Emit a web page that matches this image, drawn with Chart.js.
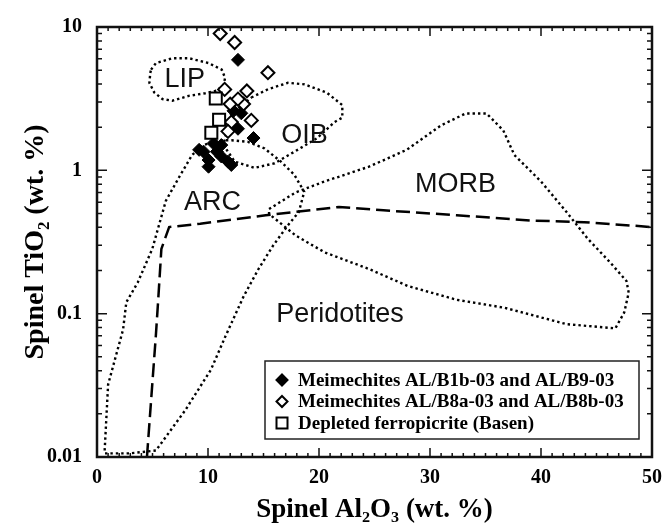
<!DOCTYPE html>
<html>
<head>
<meta charset="utf-8">
<script src="https://cdn.jsdelivr.net/npm/chart.js@4.4.0/dist/chart.umd.min.js"></script>
<style>
  html, body { margin: 0; padding: 0; background: #fff; }
</style>
</head>
<body>
<canvas id="spinelChart" width="671" height="529"></canvas>
<script>
// spinel data points (Al2O3 wt.%, TiO2 wt.%)
const filledX = [12.7, 14.1, 12.7, 9.6, 10.05, 10.05, 11.8, 10.8, 11.2, 10.5, 12.1, 9.2, 11.2, 12.3, 13.0];
const filledY = [5.9, 1.68, 1.95, 1.35, 1.18, 1.06, 1.15, 1.35, 1.25, 1.54, 1.09, 1.39, 1.5, 2.6, 2.5];

const openX = [11.1, 12.4, 15.4, 11.5, 13.5, 12.0, 13.2, 12.7, 13.9, 12.1, 11.8];
const openY = [9.0, 7.8, 4.8, 3.67, 3.58, 2.9, 2.9, 3.14, 2.23, 2.17, 1.87];

const squareX = [10.7, 11.0, 10.3];
const squareY = [3.17, 2.25, 1.83];

// fields (dotted outlines)
const lipX = [4.87, 5.31, 6.79, 8.27, 10.05, 11.24, 11.54, 11.39, 10.65, 9.76, 8.27, 6.79, 5.9, 5.16, 4.72, 4.8, 4.87];
const lipY = [5.04, 5.6, 6.06, 6.06, 5.6, 5.04, 4.42, 3.87, 3.58, 3.45, 3.31, 3.06, 3.14, 3.49, 4.08, 4.78, 5.04];

const oibX = [13.9, 15.4, 17.2, 18.7, 20.7, 22.1, 22.1, 21.4, 19.8, 17.8, 16.0, 14.2, 12.4, 11.4, 12.0, 13.9];
const oibY = [3.22, 3.68, 4.08, 3.98, 3.48, 2.85, 2.33, 2.17, 1.67, 1.35, 1.12, 1.04, 1.15, 1.5, 2.41, 3.22];

const arcX = [0.69, 1.0, 2.35, 2.64, 3.67, 4.98, 6.2, 7.38, 8.57, 9.6, 10.94, 12.13, 13.61, 15.1, 16.57, 17.77, 18.67, 18.18, 17.18, 15.86, 14.55, 13.23, 11.57, 10.26, 7.95, 5.31, 2.94, 0.62];
const arcY = [0.0111, 0.032, 0.0775, 0.12, 0.165, 0.283, 0.612, 0.891, 1.28, 1.5, 1.62, 1.62, 1.58, 1.42, 1.15, 0.933, 0.708, 0.512, 0.412, 0.298, 0.205, 0.133, 0.0695, 0.0406, 0.0212, 0.0111, 0.0106, 0.0106];

const morbX = [15.5, 17.9, 20.5, 24.5, 27.9, 31.0, 33.2, 35.1, 36.6, 37.6, 40.0, 42.3, 44.2, 46.2, 47.7, 47.9, 47.5, 46.7, 42.3, 36.7, 32.4, 28.0, 24.5, 20.5, 17.9, 15.5, 15.5];
const morbY = [0.537, 0.702, 0.836, 1.06, 1.39, 2.06, 2.49, 2.49, 1.9, 1.28, 0.836, 0.512, 0.334, 0.229, 0.169, 0.14, 0.102, 0.079, 0.0845, 0.11, 0.125, 0.156, 0.205, 0.268, 0.351, 0.496, 0.537];

// peridotite limit (dashed)
const periX = [4.5, 5.3, 5.5, 5.8, 6.5, 9.3, 15.2, 21.8, 25.8, 32.4, 39.0, 43.9, 50];
const periY = [0.01, 0.07, 0.12, 0.283, 0.402, 0.424, 0.486, 0.555, 0.526, 0.486, 0.447, 0.435, 0.402];

const fieldNames = ['LIP', 'OIB', 'ARC', 'MORB', 'Peridotites'];
const fieldLabelX = [7.9, 18.7, 10.4, 32.3, 21.9];
const fieldLabelY = [4.3, 1.76, 0.6, 0.8, 0.099];

const legendLabels = [
  'Meimechites AL/B1b-03 and AL/B9-03',
  'Meimechites AL/B8a-03 and AL/B8b-03',
  'Depleted ferropicrite (Basen)'
];

const xTicks = [0, 10, 20, 30, 40, 50];
const yTicks = [0.01, 0.1, 1, 10];
const yTickLabels = ['0.01', '0.1', '1', '10'];

const pts = (xs, ys) => xs.map((x, i) => ({ x: x, y: ys[i] }));

function fieldSet(xs, ys, dash, width) {
  return {
    data: pts(xs, ys),
    showLine: true,
    borderColor: '#000',
    borderWidth: width,
    borderDash: dash,
    borderCapStyle: 'butt',
    pointRadius: 0,
    fill: false,
    tension: 0
  };
}

const frameAndLabels = {
  id: 'frameAndLabels',
  afterDatasetsDraw(chart) {
    const ctx = chart.ctx;
    const xs = chart.scales.x, ys = chart.scales.y;
    const a = chart.chartArea;

    // field names
    ctx.save();
    ctx.fillStyle = '#111';
    ctx.font = '27px "Liberation Sans", Arial, sans-serif';
    ctx.textAlign = 'center';
    ctx.textBaseline = 'middle';
    fieldNames.forEach((t, i) => {
      ctx.fillText(t, xs.getPixelForValue(fieldLabelX[i]), ys.getPixelForValue(fieldLabelY[i]));
    });
    ctx.restore();

    // inward ticks
    ctx.save();
    ctx.strokeStyle = '#111';
    ctx.lineWidth = 1.5;
    ctx.beginPath();
    for (let v = 0; v <= 50; v++) {
      const px = xs.getPixelForValue(v);
      const len = v % 10 === 0 ? 9 : 4;
      ctx.moveTo(px, a.bottom); ctx.lineTo(px, a.bottom - len);
      ctx.moveTo(px, a.top); ctx.lineTo(px, a.top + len);
    }
    for (let e = -2; e <= 0; e++) {
      for (let k = 1; k <= 10; k++) {
        const py = ys.getPixelForValue(k * Math.pow(10, e));
        const len = (k === 1 || k === 10) ? 10 : 5;
        ctx.moveTo(a.left, py); ctx.lineTo(a.left + len, py);
        ctx.moveTo(a.right, py); ctx.lineTo(a.right - len, py);
      }
    }
    ctx.stroke();
    ctx.lineWidth = 2.5;
    ctx.strokeRect(a.left, a.top, a.right - a.left, a.bottom - a.top);
    ctx.restore();

    // legend box
    ctx.save();
    const bx = 265, by = 361, bw = 374, bh = 78;
    ctx.fillStyle = '#fff';
    ctx.fillRect(bx, by, bw, bh);
    ctx.strokeStyle = '#222';
    ctx.lineWidth = 1.5;
    ctx.strokeRect(bx, by, bw, bh);
    ctx.font = 'bold 19px "Liberation Serif", "Times New Roman", serif';
    ctx.textBaseline = 'middle';
    ctx.textAlign = 'left';
    legendLabels.forEach((t, i) => {
      const cy = by + 19 + i * 21.5;
      const cx = bx + 17;
      ctx.lineWidth = 2;
      ctx.strokeStyle = '#000';
      ctx.beginPath();
      if (i < 2) {
        const r = 5.5;
        ctx.moveTo(cx, cy - r); ctx.lineTo(cx + r, cy); ctx.lineTo(cx, cy + r); ctx.lineTo(cx - r, cy);
        ctx.closePath();
        ctx.fillStyle = i === 0 ? '#000' : '#fff';
        ctx.fill();
        ctx.stroke();
      } else {
        ctx.rect(cx - 5.5, cy - 5.5, 11, 11);
        ctx.fillStyle = '#fff';
        ctx.fill();
        ctx.stroke();
      }
      ctx.fillStyle = '#000';
      ctx.fillText(t, bx + 33, cy + 1);
    });
    ctx.restore();
  }
};

const tickFont = { family: '"Liberation Serif", "Times New Roman", serif', size: 20, weight: 'bold' };
const titleFamily = '"Liberation Serif", "Times New Roman", serif';

new Chart('spinelChart', {
  type: 'scatter',
  data: {
    datasets: [
      {
        data: pts(squareX, squareY),
        pointStyle: 'rect',
        pointRadius: 8.5,
        pointBackgroundColor: '#fff',
        pointBorderColor: '#000',
        pointBorderWidth: 2
      },
      {
        data: pts(openX, openY),
        pointStyle: 'rectRot',
        pointRadius: 6.5,
        pointBackgroundColor: '#fff',
        pointBorderColor: '#000',
        pointBorderWidth: 2
      },
      {
        data: pts(filledX, filledY),
        pointStyle: 'rectRot',
        pointRadius: 6.5,
        pointBackgroundColor: '#000',
        pointBorderColor: '#000',
        pointBorderWidth: 1
      },
      fieldSet(periX, periY, [14, 6], 2.5),
      fieldSet(lipX, lipY, [2.4, 3], 2.4),
      fieldSet(oibX, oibY, [2.4, 3], 2.4),
      fieldSet(arcX, arcY, [2.4, 3], 2.4),
      fieldSet(morbX, morbY, [2.4, 3], 2.4)
    ]
  },
  options: {
    responsive: false,
    animation: false,
    devicePixelRatio: 1,
    layout: { padding: { top: 20, right: 12, left: 0, bottom: 0 } },
    plugins: {
      legend: { display: false },
      tooltip: { enabled: false }
    },
    scales: {
      x: {
        type: 'linear',
        min: 0,
        max: 50,
        afterBuildTicks: (s) => { s.ticks = xTicks.map(v => ({ value: v })); },
        afterFit: (s) => { s.height = 72; },
        grid: { display: false, drawTicks: false },
        border: { display: false },
        ticks: { color: '#000', font: tickFont, padding: 9, maxRotation: 0 },
        title: {
          display: true,
          text: 'Spinel Al₂O₃ (wt. %)',
          color: '#000',
          font: { family: titleFamily, size: 27, weight: 'bold' },
          padding: { top: 0, bottom: 3 }
        }
      },
      y: {
        type: 'logarithmic',
        min: 0.01,
        max: 10,
        afterBuildTicks: (s) => { s.ticks = yTicks.map(v => ({ value: v })); },
        afterFit: (s) => { s.width = 97; },
        grid: { display: false, drawTicks: false },
        border: { display: false },
        ticks: {
          color: '#000',
          font: tickFont,
          padding: 15,
          callback: (v) => {
            const i = yTicks.indexOf(v);
            return i >= 0 ? yTickLabels[i] : '';
          }
        },
        title: {
          display: true,
          text: 'Spinel TiO₂ (wt. %)',
          color: '#000',
          font: { family: titleFamily, size: 28, weight: 'bold' },
          padding: { top: 19, bottom: 0 }
        }
      }
    }
  },
  plugins: [frameAndLabels]
});
</script>
</body>
</html>
